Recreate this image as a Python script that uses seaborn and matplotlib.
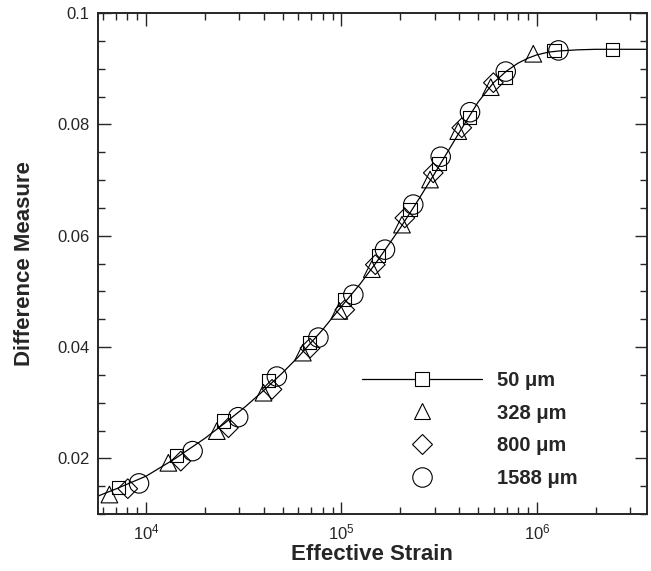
import matplotlib
matplotlib.use("Agg")
import matplotlib.pyplot as plt
import matplotlib.ticker as mticker
from matplotlib.lines import Line2D
import seaborn as sns
import pandas as pd

# ---- data ----
strain_50 = [7.2e3, 1.435e4, 2.49e4, 4.24e4, 6.85e4, 1.04e5, 1.545e5, 2.245e5, 3.16e5, 4.52e5, 6.87e5, 1.225e6, 2.44e6]
dm_50 = [0.0147, 0.0205, 0.0267, 0.0340, 0.0408, 0.0485, 0.0564, 0.0647, 0.0730, 0.0812, 0.0885, 0.0933, 0.0934]

strain_328 = [6.49e3, 1.30e4, 2.30e4, 3.99e4, 6.34e4, 9.75e4, 1.43e5, 2.04e5, 2.84e5, 3.96e5, 5.81e5, 9.59e5]
dm_328 = [0.0135, 0.0192, 0.0249, 0.0318, 0.0390, 0.0465, 0.0540, 0.0620, 0.0701, 0.0788, 0.0867, 0.0927]

strain_800 = [8.06e3, 1.506e4, 2.64e4, 4.41e4, 6.9e4, 1.04e5, 1.49e5, 2.11e5, 2.95e5, 4.13e5, 5.99e5]
dm_800 = [0.01455, 0.0195, 0.0255, 0.0324, 0.0398, 0.0467, 0.0548, 0.0632, 0.0713, 0.0794, 0.0875]

strain_1588 = [9.2e3, 1.73e4, 2.96e4, 4.67e4, 7.62e4, 1.15e5, 1.67e5, 2.33e5, 3.22e5, 4.55e5, 6.93e5, 1.29e6]
dm_1588 = [0.0155, 0.0213, 0.0274, 0.0347, 0.0417, 0.0494, 0.0575, 0.0656, 0.0742, 0.0822, 0.0895, 0.0933]

fit_strain = [5.65e3, 7e3, 1e4, 1.4e4, 2e4, 2.5e4, 3.2e4, 4e4, 5e4, 6e4, 8e4, 1e5, 1.25e5, 1.5e5,
              2e5, 2.5e5, 3e5, 4e5, 5e5, 6e5, 7e5, 8e5, 9e5, 1e6, 1.15e6, 1.3e6, 1.6e6, 2e6, 3.65e6]
fit_dm = [0.0132, 0.0145, 0.0168, 0.0199, 0.0236, 0.0262, 0.0292, 0.0322, 0.0354, 0.0382, 0.0431,
          0.0473, 0.0514, 0.0551, 0.0614, 0.0667, 0.0712, 0.0785, 0.0840, 0.0875, 0.0896, 0.0910,
          0.0919, 0.0925, 0.0930, 0.0932, 0.0934, 0.0935, 0.0935]

labels = ["50 \u03bcm", "328 \u03bcm", "800 \u03bcm", "1588 \u03bcm"]

# ---- style ----
sns.set_style("ticks")
plt.rcParams["font.family"] = ["Liberation Sans", "DejaVu Sans"]
plt.rcParams["mathtext.default"] = "regular"

fig = plt.figure(figsize=(6.51, 5.71), dpi=100)
ax = fig.add_axes([0.150, 0.0998, 0.8434, 0.8772])

fit_df = pd.DataFrame({"x": fit_strain, "y": fit_dm})
sns.lineplot(data=fit_df, x="x", y="y", ax=ax, color="black", linewidth=0.9,
             sort=False, estimator=None)

series = [
    (strain_50, dm_50, "s", 9.5),
    (strain_328, dm_328, "^", 12.0),
    (strain_800, dm_800, "D", 10.0),
    (strain_1588, dm_1588, "o", 14.0),
]
for xs, ys, mk, ms in series:
    df = pd.DataFrame({"x": xs, "y": ys})
    sns.scatterplot(data=df, x="x", y="y", ax=ax, marker=mk, s=ms ** 2,
                    facecolor="none", edgecolor="black", linewidth=0.8, zorder=3)

ax.set_xscale("log")
ax.set_xlim(5.65e3, 3.65e6)
ax.set_ylim(0.01, 0.1)

ax.xaxis.set_major_locator(mticker.LogLocator(base=10, numticks=10))
ax.xaxis.set_minor_locator(mticker.LogLocator(base=10, subs=range(2, 10), numticks=20))
ax.xaxis.set_minor_formatter(mticker.NullFormatter())
ax.yaxis.set_major_locator(mticker.FixedLocator([0.02, 0.04, 0.06, 0.08, 0.1]))
ax.yaxis.set_major_formatter(mticker.FuncFormatter(lambda v, p: f"{v:g}"))
ax.yaxis.set_minor_locator(mticker.MultipleLocator(0.005))

ax.tick_params(which="both", direction="in", top=True, right=True, labelsize=12, width=1.0)
ax.tick_params(which="major", length=9, pad=6)
ax.tick_params(which="minor", length=5)
for sp in ax.spines.values():
    sp.set_linewidth(1.4)
    sp.set_visible(True)

ax.set_xlabel("Effective Strain", fontsize=16, fontweight="bold", labelpad=1)
ax.set_ylabel("Difference Measure", fontsize=16, fontweight="bold", labelpad=16)

handles = [
    Line2D([], [], color="black", linewidth=0.9, marker="s", markersize=9.5,
           markerfacecolor="white", markeredgecolor="black", markeredgewidth=0.8),
    Line2D([], [], linestyle="none", marker="^", markersize=12,
           markerfacecolor="none", markeredgecolor="black", markeredgewidth=0.8),
    Line2D([], [], linestyle="none", marker="D", markersize=10,
           markerfacecolor="none", markeredgecolor="black", markeredgewidth=0.8),
    Line2D([], [], linestyle="none", marker="o", markersize=14,
           markerfacecolor="none", markeredgecolor="black", markeredgewidth=0.8),
]
leg = ax.legend(handles, labels, loc="lower left", bbox_to_anchor=(0.4624, 0.032),
                frameon=False, borderpad=0, handlelength=6.0, handletextpad=0.7,
                labelspacing=0.68, prop={"weight": "bold", "size": 14.5})

fig.savefig("out.png", dpi=100)
